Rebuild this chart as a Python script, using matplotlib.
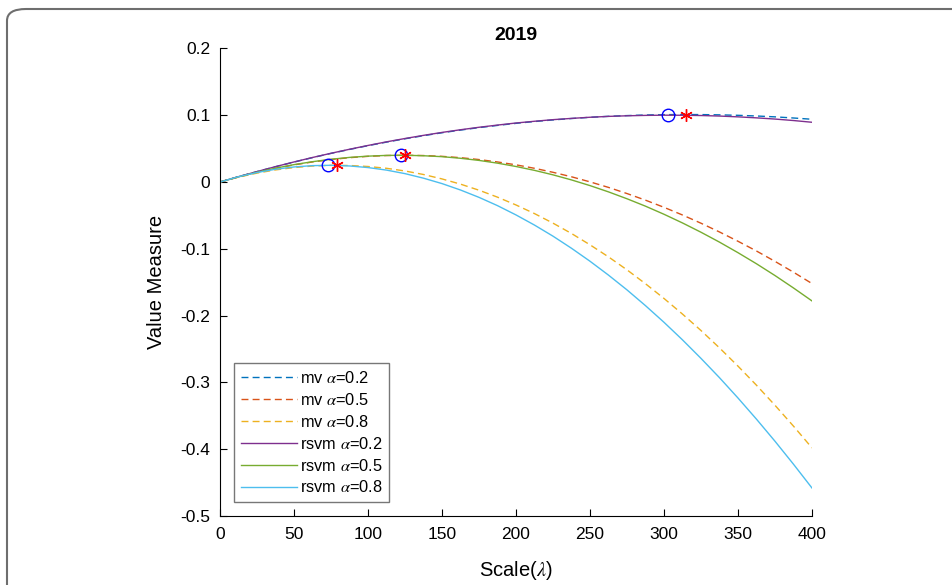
import matplotlib
matplotlib.use("Agg")
import matplotlib.pyplot as plt
from matplotlib.patches import FancyBboxPatch

plt.rcParams['font.family'] = ['Liberation Sans', 'DejaVu Sans']
plt.rcParams['mathtext.fontset'] = 'stix'

# scale values (lambda)
lam = [0, 12.5, 25, 37.5, 50, 62.5, 75, 87.5, 100, 112.5, 125, 137.5, 150, 162.5, 175,
       187.5, 200, 212.5, 225, 237.5, 250, 262.5, 275, 287.5, 300, 312.5, 325, 337.5,
       350, 362.5, 375, 387.5, 400]

# value measure
mv_02 = [0, 0.0080, 0.0156, 0.0229, 0.0298, 0.0365, 0.0428, 0.0487, 0.0544, 0.0597,
         0.0647, 0.0693, 0.0737, 0.0777, 0.0814, 0.0847, 0.0878, 0.0905, 0.0929, 0.0950,
         0.0968, 0.0983, 0.0994, 0.1003, 0.1008, 0.1010, 0.1009, 0.1005, 0.0998, 0.0988,
         0.0975, 0.0958, 0.0939]
mv_05 = [0, 0.0076, 0.0144, 0.0204, 0.0256, 0.0300, 0.0336, 0.0364, 0.0384, 0.0396,
         0.0400, 0.0396, 0.0384, 0.0364, 0.0336, 0.0300, 0.0257, 0.0205, 0.0145, 0.0078,
         0.0002, -0.0081, -0.0173, -0.0272, -0.0379, -0.0494, -0.0617, -0.0748, -0.0887,
         -0.1033, -0.1188, -0.1350, -0.1520]
mv_08 = [0, 0.0073, 0.0133, 0.0181, 0.0216, 0.0239, 0.0249, 0.0247, 0.0232, 0.0205,
         0.0165, 0.0112, 0.0046, -0.0032, -0.0123, -0.0227, -0.0344, -0.0473, -0.0616,
         -0.0771, -0.0940, -0.1121, -0.1315, -0.1523, -0.1743, -0.1977, -0.2223, -0.2483,
         -0.2756, -0.3042, -0.3342, -0.3654, -0.3980]
rsvm_02 = [0, 0.0080, 0.0156, 0.0230, 0.0300, 0.0367, 0.0430, 0.0490, 0.0547, 0.0601,
           0.0651, 0.0698, 0.0742, 0.0782, 0.0819, 0.0852, 0.0883, 0.0909, 0.0933, 0.0952,
           0.0969, 0.0982, 0.0991, 0.0997, 0.1000, 0.0999, 0.0995, 0.0987, 0.0975, 0.0960,
           0.0942, 0.0920, 0.0894]
rsvm_05 = [0, 0.0077, 0.0146, 0.0207, 0.0260, 0.0304, 0.0340, 0.0368, 0.0387, 0.0398,
           0.0400, 0.0393, 0.0379, 0.0355, 0.0323, 0.0282, 0.0232, 0.0174, 0.0107, 0.0031,
           -0.0054, -0.0148, -0.0251, -0.0362, -0.0483, -0.0613, -0.0752, -0.0900, -0.1058,
           -0.1224, -0.1400, -0.1586, -0.1780]
rsvm_08 = [0, 0.0079, 0.0142, 0.0191, 0.0225, 0.0245, 0.0250, 0.0240, 0.0216, 0.0178,
           0.0125, 0.0057, -0.0024, -0.0120, -0.0230, -0.0354, -0.0493, -0.0645, -0.0811,
           -0.0992, -0.1186, -0.1394, -0.1615, -0.1851, -0.2100, -0.2363, -0.2640, -0.2929,
           -0.3233, -0.3550, -0.3880, -0.4224, -0.4580]

# optimum points
rsvm_opt_lam = [303, 122, 73]
rsvm_opt_val = [0.100, 0.040, 0.025]
mv_opt_lam = [315, 125, 79]
mv_opt_val = [0.101, 0.040, 0.025]

series = [
    (mv_02, r'mv $\alpha$=0.2', '#0072BD', '--'),
    (mv_05, r'mv $\alpha$=0.5', '#D95319', '--'),
    (mv_08, r'mv $\alpha$=0.8', '#EDB120', '--'),
    (rsvm_02, r'rsvm $\alpha$=0.2', '#7E2F8E', '-'),
    (rsvm_05, r'rsvm $\alpha$=0.5', '#77AC30', '-'),
    (rsvm_08, r'rsvm $\alpha$=0.8', '#4DBEEE', '-'),
]

xticks = [0, 50, 100, 150, 200, 250, 300, 350, 400]
yticks = [-0.5, -0.4, -0.3, -0.2, -0.1, 0, 0.1, 0.2]
ytick_labels = ['-0.5', '-0.4', '-0.3', '-0.2', '-0.1', '0', '0.1', '0.2']

fig = plt.figure(figsize=(9.53, 5.85), dpi=100)
ax = fig.add_axes([0.2309, 0.1179, 0.6211, 0.7994])

for vals, lab, col, ls in series:
    if ls == '--':
        ax.plot(lam, vals, color=col, lw=1.0, linestyle=(0, (5, 3)), label=lab)
    else:
        ax.plot(lam, vals, color=col, lw=1.0, label=lab)

ax.plot(rsvm_opt_lam, rsvm_opt_val, 'o', mfc='none', mec='#0000FF', ms=9, mew=1.0, ls='none')
ax.plot(mv_opt_lam, mv_opt_val, color='#FF0000', ms=9, mew=1.0, ls='none', marker=(6, 2, 0))

ax.set_xlim(0, 400)
ax.set_ylim(-0.5, 0.2)
ax.set_xticks(xticks)
ax.set_xticklabels([str(t) for t in xticks])
ax.set_yticks(yticks)
ax.set_yticklabels(ytick_labels)
ax.tick_params(direction='in', length=5, width=0.8, labelsize=12.5)
ax.tick_params(axis='x', pad=8)
ax.tick_params(axis='y', pad=7)
ax.spines['top'].set_visible(False)
ax.spines['right'].set_visible(False)
ax.spines['left'].set_linewidth(0.8)
ax.spines['bottom'].set_linewidth(0.8)

ax.set_title('2019', fontsize=14, fontweight='bold', pad=6)
ax.set_xlabel(r'Scale($\lambda$)', fontsize=14.5, labelpad=12)
ax.set_ylabel('Value Measure', fontsize=14.5, labelpad=10)

leg = ax.legend(loc='lower left', bbox_to_anchor=(0.024, 0.03), borderaxespad=0,
                fontsize=11.8, handlelength=3.4, handletextpad=0.2, labelspacing=0.36,
                fancybox=False, frameon=True, borderpad=0.4)
leg.get_frame().set_edgecolor('#555555')
leg.get_frame().set_linewidth(1.0)

# outer rounded frame
W, H = 953.0, 585.0
frame = FancyBboxPatch((7 / W, -60 / H), 1100 / W, (585 - 9 + 60) / H,
                       boxstyle='round,pad=0,rounding_size=0.02',
                       transform=fig.transFigure, fill=False,
                       edgecolor='#6E6E6E', lw=1.5, clip_on=False)
fig.patches.append(frame)

fig.savefig('out.png', dpi=100)
